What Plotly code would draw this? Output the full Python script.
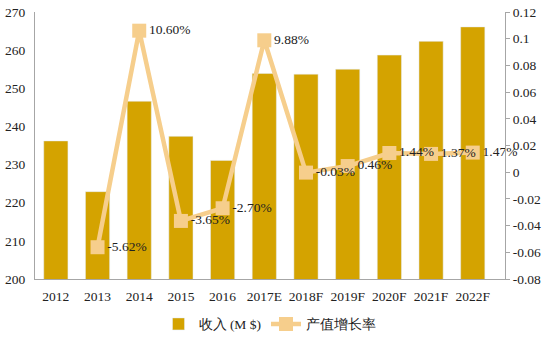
import plotly.graph_objects as go

years = ["2012", "2013", "2014", "2015", "2016", "2017E", "2018F", "2019F", "2020F", "2021F", "2022F"]
revenue = [236.2, 222.9, 246.6, 237.4, 231.1, 253.9, 253.7, 255.0, 258.7, 262.3, 266.1]
growth_years = ["2013", "2014", "2015", "2016", "2017E", "2018F", "2019F", "2020F", "2021F", "2022F"]
growth = [-0.0562, 0.1060, -0.0365, -0.0270, 0.0988, -0.0003, 0.0046, 0.0144, 0.0137, 0.0147]
growth_labels = ["-5.62%", "10.60%", "-3.65%", "-2.70%", "9.88%", "-0.03%", "0.46%", "1.44%", "1.37%", "1.47%"]
left_ticks = [200, 210, 220, 230, 240, 250, 260, 270]
right_ticks = [-0.08, -0.06, -0.04, -0.02, 0, 0.02, 0.04, 0.06, 0.08, 0.1, 0.12]
right_tick_text = ["-0.08", "-0.06", "-0.04", "-0.02", "0", "0.02", "0.04", "0.06", "0.08", "0.1", "0.12"]

FONT = "Liberation Serif"
BAR = "#D4A300"
LINE = "#F6CE8C"

fig = go.Figure()
fig.add_trace(go.Bar(x=years, y=revenue, name="收入 (M $)", marker_color=BAR, yaxis="y"))
fig.add_trace(go.Scatter(
    x=growth_years, y=growth, name="产值增长率", yaxis="y2",
    mode="lines+markers+text", text=growth_labels, textposition="middle right",
    textfont=dict(family=FONT, size=13.5, color="#222"), cliponaxis=False,
    line=dict(color=LINE, width=4.5),
    marker=dict(symbol="square", size=14, color=LINE),
))

fig.update_layout(
    width=548, height=343,
    margin=dict(l=35, r=43, t=12, b=64),
    paper_bgcolor="white", plot_bgcolor="white",
    font=dict(family=FONT, size=13.5, color="#222"),
    bargap=0.42,
    showlegend=True,
    legend=dict(orientation="h", x=0.5, xanchor="center", yref="container", y=0.055,
                yanchor="middle", font=dict(family=FONT, size=13.5, color="#222"), itemwidth=30),
    xaxis=dict(categoryorder="array", categoryarray=years, showline=True, linecolor="#A6A6A6",
               linewidth=1, ticks="", showgrid=False, ticklabelstandoff=5, automargin=False),
    yaxis=dict(range=[200, 270], tickvals=left_ticks, showline=True, linecolor="#A6A6A6",
               linewidth=1, ticks="", showgrid=False, zeroline=False, automargin=False,
               ticklabelstandoff=6),
    yaxis2=dict(range=[-0.08, 0.12], overlaying="y", side="right", tickvals=right_ticks,
                ticktext=right_tick_text, showline=True, linecolor="#A6A6A6", linewidth=1,
                ticks="outside", ticklen=4, tickcolor="#A6A6A6", showgrid=False, zeroline=False,
                automargin=False),
)

fig.write_html("out.html")
